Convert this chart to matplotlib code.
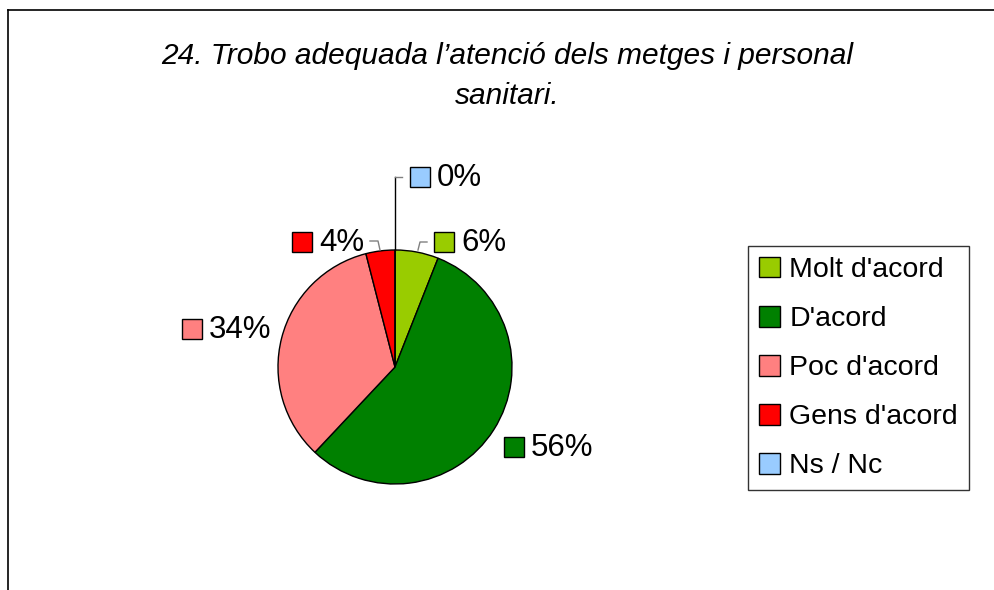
import matplotlib.pyplot as plt
import numpy as np
from matplotlib.patches import Patch
from matplotlib.lines import Line2D

plt.rcParams['font.family'] = ['Liberation Sans', 'DejaVu Sans']

# Dades
categories = ["Molt d'acord", "D'acord", "Poc d'acord", "Gens d'acord", "Ns / Nc"]
values = [6, 56, 34, 4, 0]
labels = ['6%', '56%', '34%', '4%', '0%']
colors = ['#99CC00', '#008000', '#FF8080', '#FF0000', '#99CCFF']

W, H = 995, 590
fig = plt.figure(figsize=(W / 100, H / 100), dpi=100)

# Marc de la figura (només esquerra i dalt visibles)
fig.add_artist(Line2D([8 / W, 8 / W], [0, 1 - 10 / H], color='black', lw=1.2))
fig.add_artist(Line2D([8 / W, 1], [1 - 10 / H, 1 - 10 / H], color='black', lw=1.2))

fig.text(507 / W, 1 - 56 / H, "24. Trobo adequada l’atenció dels metges i personal",
         ha='center', va='center', fontsize=21.5, style='italic')
fig.text(507 / W, 1 - 96 / H, "sanitari.", ha='center', va='center', fontsize=21.5, style='italic')

# Pastís: centre (395, 367), radi 117 px
cx, cy, r = 395, 367, 117
ax = fig.add_axes([(cx - r) / W, (H - cy - r) / H, 2 * r / W, 2 * r / H])
ax.axis('off')
wedges, _ = ax.pie(values, colors=colors, startangle=90, counterclock=False, radius=1,
                   wedgeprops=dict(edgecolor='black', linewidth=1))
ax.set_aspect('auto')
ax.set_xlim(-1, 1)
ax.set_ylim(-1, 1)

# Posicions de les etiquetes (px)
label_pos = [(434, 242), (504, 447), (182, 329), (292, 242), (410, 177)]
for (lx, ly), lab, col in zip(label_pos, labels, colors):
    fig.patches.append(plt.Rectangle((lx / W, 1 - (ly + 10) / H), 20 / W, 20 / H,
                                     transform=fig.transFigure, facecolor=col,
                                     edgecolor='black', lw=1, figure=fig))
    fig.text((lx + 27) / W, 1 - (ly + 1) / H, lab, ha='left', va='center', fontsize=22.5)

# Línies guia
def px_line(xs, ys, color):
    fig.add_artist(Line2D([x / W for x in xs], [1 - y / H for y in ys], color=color, lw=1))

px_line([418, 420, 427], [250, 242, 242], 'gray')
px_line([380, 378, 370], [250, 241, 241], 'gray')
px_line([395, 395], [250, 177], 'black')
px_line([395, 402], [177, 177], 'gray')

handles = [Patch(facecolor=c, edgecolor='black', label=n) for c, n in zip(colors, categories)]
leg = fig.legend(handles=handles, loc='upper left', bbox_to_anchor=(748 / W, 1 - 246 / H),
                 fontsize=20.5, frameon=True, fancybox=False, edgecolor='black',
                 handlelength=0.74, handleheight=0.74, handletextpad=0.33,
                 labelspacing=0.8, borderpad=0.38, borderaxespad=0)
leg.get_frame().set_linewidth(1)

fig.savefig('out.png', dpi=100)
